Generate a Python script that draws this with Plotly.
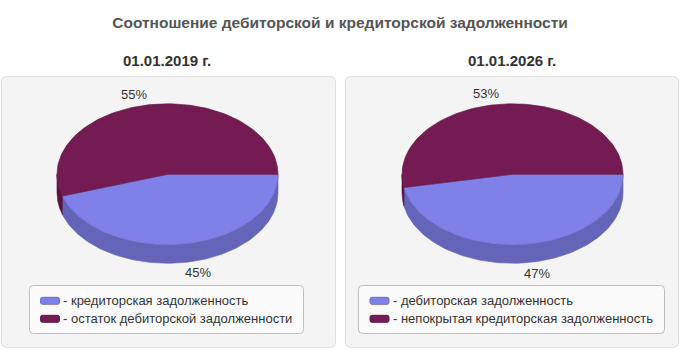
import numpy as np
import plotly.graph_objects as go

# ---- data ----
title_text = "Соотношение дебиторской и кредиторской задолженности"
dates = ["01.01.2019 г.", "01.01.2026 г."]
names_2019 = ["кредиторская задолженность", "остаток дебиторской задолженности"]
names_2026 = ["дебиторская задолженность", "непокрытая кредиторская задолженность"]
shares_2019 = [45, 55]
shares_2026 = [47, 53]

# ---- style ----
TOP_COLORS = ["#8080e9", "#751b54"]
SIDE_COLORS = ["#6464b9", "#5a1240"]
EDGE_COLORS = ["#6a6ac8", "#5a1240"]
SWATCH_BORDER = ["#7070c0", "#5a1a48"]
FONT = "Liberation Sans, Arial, sans-serif"
W, H = 680, 350

panels = [
    dict(cx=167.5, cy=174.3, box=(1.5, 76.5, 335.5, 347.5), leg=(29.5, 285.5, 303.5, 333.5), sw=40.5),
    dict(cx=512.5, cy=174.3, box=(345.5, 76.5, 678.5, 347.5), leg=(358.5, 285.5, 664.5, 333.5), sw=370.0),
]
RX, RY, DEPTH = 110.5, 70.5, 18.5
LEG_ROWS = [300.8, 318.8]


def arc(cx, cy, a0, a1, dy=0.0, n=120):
    t = np.radians(np.linspace(a0, a1, n))
    return cx + RX * np.cos(t), cy + dy + RY * np.sin(t)


def rounded_rect(x0, y0, x1, y1, r):
    return (f"M{x0+r},{y0} L{x1-r},{y0} Q{x1},{y0} {x1},{y0+r} L{x1},{y1-r} "
            f"Q{x1},{y1} {x1-r},{y1} L{x0+r},{y1} Q{x0},{y1} {x0},{y1-r} "
            f"L{x0},{y0+r} Q{x0},{y0} {x0+r},{y0} Z")


fig = go.Figure()
shapes = []
annotations = []

for p, date, names, shares in zip(panels, dates, [names_2019, names_2026], [shares_2019, shares_2026]):
    cx, cy = p["cx"], p["cy"]
    total = float(sum(shares))
    bounds = []
    a = 0.0
    for s in shares:
        b = a + 360.0 * s / total
        bounds.append((a, b))
        a = b

    # side walls (visible front half: 0..180 deg, screen-down)
    for i, (a0, a1) in enumerate(bounds):
        s0, s1 = max(a0, 0.0), min(a1, 180.0)
        if s1 > s0:
            xt, yt = arc(cx, cy, s0, s1)
            xb, yb = arc(cx, cy, s1, s0, dy=DEPTH)
            fig.add_trace(go.Scatter(
                x=np.concatenate([xt, xb, xt[:1]]), y=np.concatenate([yt, yb, yt[:1]]),
                mode="lines", fill="toself", fillcolor=SIDE_COLORS[i],
                line=dict(color=SIDE_COLORS[i], width=0.6),
                hoverinfo="skip", showlegend=False))

    # top faces
    for i, (a0, a1) in enumerate(bounds):
        xa, ya = arc(cx, cy, a0, a1)
        fig.add_trace(go.Scatter(
            x=np.concatenate([[cx], xa, [cx]]), y=np.concatenate([[cy], ya, [cy]]),
            mode="lines", fill="toself", fillcolor=TOP_COLORS[i],
            line=dict(color=EDGE_COLORS[i], width=0.6),
            name=names[i], showlegend=False,
            hovertemplate=f"{names[i]}: {shares[i]}%<extra></extra>"))

    # percentage labels
    for i, (a0, a1) in enumerate(bounds):
        m = np.radians((a0 + a1) / 2)
        left_side = np.cos(m) < 0
        lx = cx + (1.08 if left_side else 0.9) * RX * np.cos(m)
        ly = cy + 1.15 * RY * np.sin(m) + (DEPTH if np.sin(m) > 0 else 0)
        annotations.append(dict(
            x=lx, y=ly, xref="x", yref="y", text=f"{shares[i]}%", showarrow=False,
            xanchor="right" if left_side else "left", yanchor="middle",
            font=dict(family=FONT, size=13, color="#333333")))

    # panel background
    x0, y0, x1, y1 = p["box"]
    shapes.append(dict(type="path", path=rounded_rect(x0, y0, x1, y1, 6), xref="x", yref="y",
                       fillcolor="#f4f4f4", line=dict(color="#dedede", width=1), layer="below"))
    # legend box
    x0, y0, x1, y1 = p["leg"]
    shapes.append(dict(type="path", path=rounded_rect(x0, y0, x1, y1, 4), xref="x", yref="y",
                       fillcolor="#fbfbfb", line=dict(color="#bdbdbd", width=1), layer="below"))
    # legend entries
    for i, name in enumerate(names):
        ry = LEG_ROWS[i]
        sx = p["sw"]
        shapes.append(dict(type="path", path=rounded_rect(sx, ry - 3.5, sx + 19, ry + 3.5, 2),
                           xref="x", yref="y", fillcolor=TOP_COLORS[i],
                           line=dict(color=SWATCH_BORDER[i], width=1), layer="above"))
        annotations.append(dict(
            x=sx + 20.5, y=ry, xref="x", yref="y", text=f"- {name}", showarrow=False,
            xanchor="left", yanchor="middle", font=dict(family=FONT, size=13, color="#333333")))
    # date subtitle
    annotations.append(dict(
        x=cx - 1, y=60.5, xref="x", yref="y", text=f"<b>{date}</b>", showarrow=False,
        xanchor="center", yanchor="middle", font=dict(family=FONT, size=15, color="#333333")))

fig.update_layout(
    width=W, height=H,
    margin=dict(l=0, r=0, t=0, b=0),
    paper_bgcolor="white", plot_bgcolor="white",
    title=dict(text=f"<b>{title_text}</b>", x=0.5, xanchor="center", y=1 - 23 / H, yanchor="middle",
               font=dict(family=FONT, size=15.5, color="#555555")),
    xaxis=dict(range=[0, W], visible=False, fixedrange=True),
    yaxis=dict(range=[H, 0], visible=False, fixedrange=True),
    shapes=shapes, annotations=annotations,
    showlegend=False,
)

fig.write_html("out.html")
